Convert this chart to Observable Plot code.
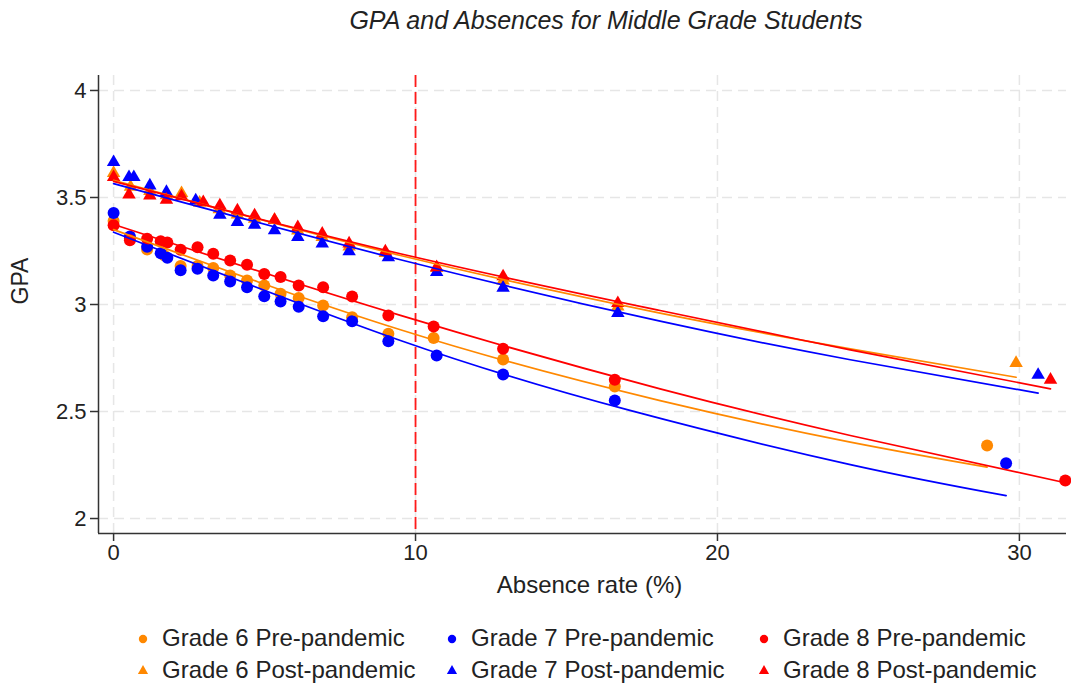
<!DOCTYPE html>
<html>
<head>
<meta charset="utf-8">
<script src="https://cdn.jsdelivr.net/npm/d3@7"></script>
<script src="https://cdn.jsdelivr.net/npm/@observablehq/plot@0.6"></script>
<style>
  html, body { margin: 0; padding: 0; background: #fff; }
  body { width: 1071px; height: 688px; position: relative; overflow: hidden;
         font-family: "Liberation Sans", Arial, sans-serif; color: #222; }
  #title { position: absolute; left: 141px; top: 5px; width: 930px; text-align: center;
           font-style: italic; font-size: 25px; line-height: 30px; }
  #chart { position: absolute; left: 0; top: 40px; }
  .leg { position: absolute; display: flex; align-items: center; font-size: 24px; white-space: nowrap; }
  .leg svg { margin-right: 9px; }
</style>
</head>
<body>
<div id="title"></div>
<div id="chart"></div>
<div id="legend"></div>
<script>
// ---------- data ----------
const chartTitle = "GPA and Absences for Middle Grade Students";
const xLabel = "Absence rate (%)";
const yLabel = "GPA";
const seriesNames = ["Grade 6 Pre-pandemic", "Grade 7 Pre-pandemic", "Grade 8 Pre-pandemic",
                     "Grade 6 Post-pandemic", "Grade 7 Post-pandemic", "Grade 8 Post-pandemic"];
const xTicks = [0, 10, 20, 30];
const yTicks = [2, 2.5, 3, 3.5, 4];
const xDomain = [-0.5, 31.56];
const yDomain = [1.93, 4.07];
const cutoff = [10];

// binned scatter points
const g6PreX  = [0, 0.54, 1.11, 1.67, 2.22, 2.78, 3.3, 3.86, 4.42, 4.99, 5.53, 6.13, 6.94, 7.9, 9.1, 10.6, 12.9, 16.6, 28.93];
const g6PreY  = [3.39, 3.31, 3.257, 3.23, 3.18, 3.18, 3.17, 3.136, 3.112, 3.089, 3.05, 3.03, 2.995, 2.94, 2.863, 2.843, 2.743, 2.617, 2.341];
const g7PreX  = [0, 0.54, 1.11, 1.56, 1.78, 2.22, 2.78, 3.3, 3.86, 4.42, 4.99, 5.53, 6.13, 6.94, 7.9, 9.1, 10.7, 12.9, 16.6, 29.56];
const g7PreY  = [3.427, 3.318, 3.27, 3.24, 3.218, 3.16, 3.167, 3.136, 3.107, 3.081, 3.039, 3.014, 2.99, 2.945, 2.922, 2.828, 2.762, 2.673, 2.551, 2.258];
const g8PreX  = [0, 0.54, 1.11, 1.56, 1.78, 2.22, 2.78, 3.3, 3.86, 4.42, 4.99, 5.53, 6.13, 6.94, 7.9, 9.1, 10.6, 12.9, 16.6, 31.52];
const g8PreY  = [3.37, 3.30, 3.307, 3.296, 3.29, 3.256, 3.268, 3.237, 3.206, 3.186, 3.143, 3.128, 3.089, 3.081, 3.037, 2.949, 2.897, 2.793, 2.648, 2.178];
const g6PostX = [0, 0.56, 1.2, 1.75, 2.25, 2.85, 3.5, 4.1, 4.67, 5.33, 6.1, 6.91, 7.8, 9.0, 10.7, 12.9, 16.7, 29.89];
const g6PostY = [3.614, 3.55, 3.53, 3.51, 3.52, 3.475, 3.445, 3.42, 3.40, 3.395, 3.345, 3.315, 3.27, 3.24, 3.17, 3.112, 2.99, 2.726];
const g7PostX = [0, 0.51, 0.67, 1.2, 1.75, 2.72, 3.52, 4.1, 4.67, 5.33, 6.1, 6.91, 7.8, 9.1, 10.7, 12.9, 16.7, 30.62];
const g7PostY = [3.665, 3.595, 3.595, 3.556, 3.525, 3.486, 3.419, 3.385, 3.372, 3.346, 3.315, 3.284, 3.248, 3.22, 3.151, 3.078, 2.96, 2.671];
const g8PostX = [0, 0.51, 1.2, 1.75, 2.25, 2.97, 3.52, 4.1, 4.67, 5.33, 6.1, 6.91, 7.8, 9.0, 10.7, 12.9, 16.7, 31.03];
const g8PostY = [3.595, 3.514, 3.509, 3.489, 3.505, 3.478, 3.463, 3.439, 3.416, 3.395, 3.361, 3.33, 3.285, 3.248, 3.174, 3.131, 3.006, 2.648];

// fitted curves at a few positions
const g6PreFitX  = [0, 9.5, 18.1, 24.4, 28.93];
const g6PreFitY  = [3.35, 2.882, 2.551, 2.357, 2.240];
const g7PreFitX  = [0, 9.5, 17.1, 24.4, 29.56];
const g7PreFitY  = [3.338, 2.832, 2.505, 2.252, 2.107];
const g8PreFitX  = [0, 9.5, 18.1, 24.4, 31.52];
const g8PreFitY  = [3.374, 2.949, 2.606, 2.388, 2.167];
const g6PostFitX = [0, 9.5, 18.1, 24.4, 29.89];
const g6PostFitY = [3.58, 3.229, 2.960, 2.793, 2.660];
const g7PostFitX = [0, 9.5, 18.1, 24.4, 30.62];
const g7PostFitY = [3.565, 3.209, 2.922, 2.742, 2.586];
const g8PostFitX = [0, 9.5, 18.1, 24.4, 31.03];
const g8PostFitY = [3.575, 3.237, 2.972, 2.788, 2.606];

// ---------- styles ----------
const seriesColors = ["#ff8800", "#0000ff", "#ff0000", "#ff8800", "#0000ff", "#ff0000"];
const seriesSymbols = ["circle", "circle", "circle", "triangle", "triangle", "triangle"];
const legendLeft = [133, 442, 754];
const legendTop = [623, 655];

// ---------- build tables ----------
const pointSets = [[g6PreX, g6PreY], [g7PreX, g7PreY], [g8PreX, g8PreY],
                   [g6PostX, g6PostY], [g7PostX, g7PostY], [g8PostX, g8PostY]];
const fitSets = [[g6PreFitX, g6PreFitY], [g7PreFitX, g7PreFitY], [g8PreFitX, g8PreFitY],
                 [g6PostFitX, g6PostFitY], [g7PostFitX, g7PostFitY], [g8PostFitX, g8PostFitY]];
const points = [];
pointSets.forEach(([xs, ys], i) => xs.forEach((x, j) => points.push({series: seriesNames[i], x, y: ys[j]})));
const fits = [];
fitSets.forEach(([xs, ys], i) => xs.forEach((x, j) => fits.push({series: seriesNames[i], x, y: ys[j]})));

const circles = points.filter(d => seriesSymbols[seriesNames.indexOf(d.series)] === "circle");
const triangles = points.filter(d => seriesSymbols[seriesNames.indexOf(d.series)] === "triangle");

document.getElementById("title").textContent = chartTitle;

const gridStyle = {stroke: "#e6e6e6", strokeOpacity: 1, strokeWidth: 1.5, strokeDasharray: "10,6"};

const chart = Plot.plot({
  width: 1071,
  height: 570,
  marginTop: 35,
  marginBottom: 77,
  marginLeft: 98,
  marginRight: 5,
  style: {fontFamily: "'Liberation Sans', Arial, sans-serif", fontSize: "22px", color: "#222", background: "white", overflow: "visible"},
  x: {domain: xDomain, label: null},
  y: {domain: yDomain, label: null},
  color: {domain: seriesNames, range: seriesColors},
  symbol: {domain: seriesNames, range: seriesSymbols},
  marks: [
    Plot.gridX(xTicks, gridStyle),
    Plot.gridY(yTicks, gridStyle),
    Plot.ruleX(cutoff, {stroke: "#ff1a1a", strokeWidth: 1.8, strokeDasharray: "12,5"}),
    Plot.ruleX([xDomain[0]], {stroke: "#333", strokeWidth: 1.5}),
    Plot.ruleY([yDomain[0]], {stroke: "#333", strokeWidth: 1.5}),
    Plot.axisX(xTicks, {tickSize: 8, tickPadding: 3, tickFormat: d => d, stroke: "#333", strokeWidth: 1.5, fontSize: 22, label: null}),
    Plot.axisY(yTicks, {tickSize: 8, tickPadding: 4, tickFormat: d => d, stroke: "#333", strokeWidth: 1.5, fontSize: 22, label: null}),
    Plot.dot(circles, {x: "x", y: "y", fill: "series", symbol: "series", r: 6}),
    Plot.dot(triangles, {x: "x", y: "y", fill: "series", symbol: "series", r: 5}),
    Plot.line(fits, {x: "x", y: "y", z: "series", stroke: "series", strokeWidth: 1.7, curve: "natural"}),
    Plot.text([xLabel], {frameAnchor: "bottom", dy: 59, dx: 7, fontSize: 24, fill: "#222"}),
    Plot.text([yLabel], {frameAnchor: "left", dx: -78, rotate: -90, fontSize: 23, fill: "#222"})
  ]
});
document.getElementById("chart").appendChild(chart);

// ---------- legend ----------
const legend = document.getElementById("legend");
seriesNames.forEach((name, i) => {
  const col = i % 3, row = Math.floor(i / 3);
  const item = document.createElement("div");
  item.className = "leg";
  item.style.left = legendLeft[col] + "px";
  item.style.top = legendTop[row] + "px";
  item.style.height = "30px";
  const svg = d3.create("svg").attr("width", 20).attr("height", 20);
  const sym = seriesSymbols[i] === "circle" ? d3.symbolCircle : d3.symbolTriangle;
  const size = seriesSymbols[i] === "circle" ? 55 : 45;
  svg.append("path").attr("transform", "translate(10,11)").attr("d", d3.symbol(sym, size)()).attr("fill", seriesColors[i]);
  item.appendChild(svg.node());
  const span = document.createElement("span");
  span.textContent = name;
  item.appendChild(span);
  legend.appendChild(item);
});
</script>
</body>
</html>
